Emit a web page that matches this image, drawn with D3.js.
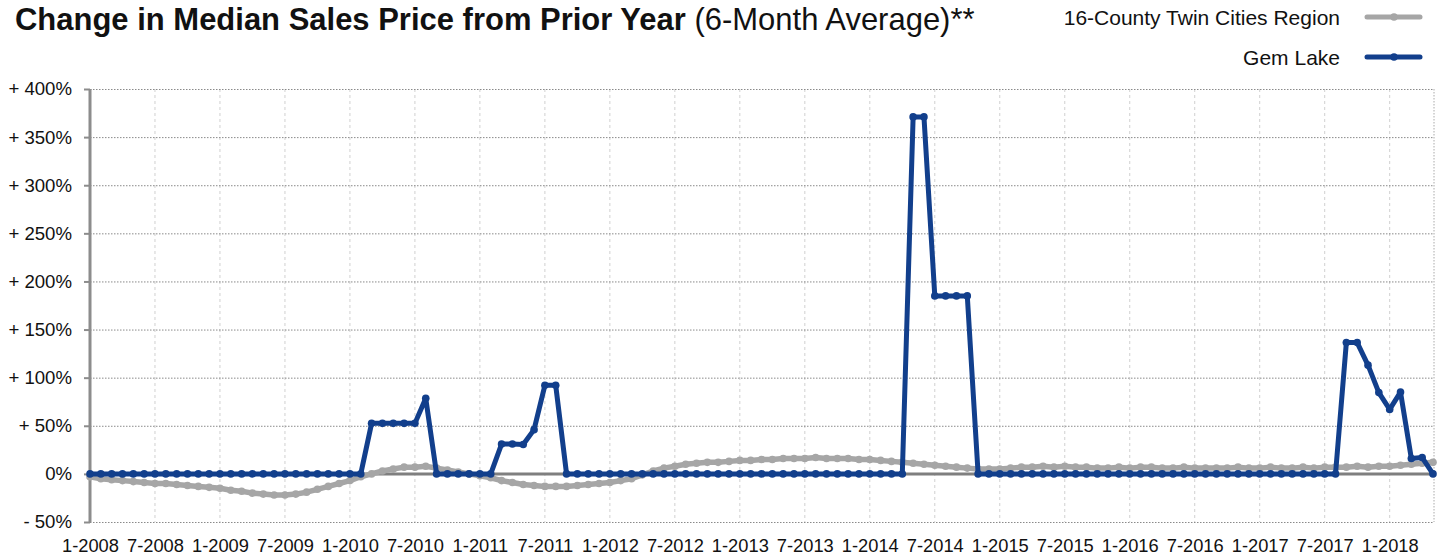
<!DOCTYPE html>
<html>
<head>
<meta charset="utf-8">
<script src="https://cdn.jsdelivr.net/npm/d3@7"></script>
<style>
    body { margin: 0; background: #fff; }
    text { font-family: "Liberation Sans", Arial, Helvetica, sans-serif; fill: #111; }
</style>
</head>
<body>
<svg id="chart" width="1445" height="555"></svg>
<script>
// monthly values, 1-2008 .. 5-2018 (percent change, 6-month average)
var months = d3.range(125);

var region = [-3, -5, -6, -7, -8, -9, -10, -10, -11, -12, -13, -14,
    -15, -17, -18, -20, -21, -22, -22, -21, -19, -16, -13, -10,
    -7, -3, 0, 3, 5, 7, 7, 8, 6, 4, 2, 0,
    -2, -4, -7, -9, -11, -12, -13, -13, -13, -12, -11, -10,
    -9, -7, -5, -1, 3, 6, 8, 10, 11, 12, 12, 13,
    14, 14, 15, 15, 16, 16, 16, 17, 16, 16, 16, 15,
    15, 14, 13, 12, 11, 10, 9, 8, 7, 6, 5, 5,
    5, 6, 7, 7, 8, 7, 8, 7, 7, 6, 6, 7,
    6, 7, 7, 6, 6, 7, 6, 6, 6, 6, 7, 6,
    6, 7, 6, 6, 7, 6, 7, 7, 7, 8, 7, 8,
    8, 9, 10, 11, 12];

var gemLake = [0, 0, 0, 0, 0, 0, 0, 0, 0, 0, 0, 0,
    0, 0, 0, 0, 0, 0, 0, 0, 0, 0, 0, 0,
    0, 0, 52.5, 52.5, 52.5, 52.5, 52.5, 78.5, 0, 0, 0, 0,
    0, 0, 31, 31, 30.5, 46, 92, 92, 0, 0, 0, 0,
    0, 0, 0, 0, 0, 0, 0, 0, 0, 0, 0, 0,
    0, 0, 0, 0, 0, 0, 0, 0, 0, 0, 0, 0,
    0, 0, 0, 0, 371, 371, 185, 185, 185, 185, 0, 0,
    0, 0, 0, 0, 0, 0, 0, 0, 0, 0, 0, 0,
    0, 0, 0, 0, 0, 0, 0, 0, 0, 0, 0, 0,
    0, 0, 0, 0, 0, 0, 0, 0, 136.5, 136.5, 113, 84.5,
    67, 85, 16, 17, 0];

var xTickLabels = ["1-2008", "7-2008", "1-2009", "7-2009", "1-2010", "7-2010", "1-2011",
    "7-2011", "1-2012", "7-2012", "1-2013", "7-2013", "1-2014", "7-2014", "1-2015",
    "7-2015", "1-2016", "7-2016", "1-2017", "7-2017", "1-2018"];

var yTicks = [-50, 0, 50, 100, 150, 200, 250, 300, 350, 400];

var seriesNames = ["16-County Twin Cities Region", "Gem Lake"];
var seriesColors = ["#a6a6a6", "#123f8c"];

var svg = d3.select("#chart");

var x = d3.scaleLinear()
    .domain([0, 124])
    .range([90, 1433]);

var y = d3.scaleLinear()
    .domain([-50, 400])
    .range([522, 89]);

// grid
svg.append("g")
    .selectAll("line")
    .data(xTickLabels.slice(1))
    .enter().append("line")
    .attr("x1", function (d, i) { return x((i + 1) * 6); })
    .attr("x2", function (d, i) { return x((i + 1) * 6); })
    .attr("y1", y(400))
    .attr("y2", y(-50))
    .attr("stroke", "#d0d0d0")
    .attr("stroke-width", 1)
    .attr("stroke-dasharray", "3,3");

svg.append("line")
    .attr("x1", x(124) + 1).attr("x2", x(124) + 1)
    .attr("y1", y(400)).attr("y2", y(-50))
    .attr("stroke", "#aaa")
    .attr("stroke-dasharray", "1.5,1.5");

svg.append("g")
    .selectAll("line")
    .data(yTicks.filter(function (d) { return d !== 0; }))
    .enter().append("line")
    .attr("x1", x(0))
    .attr("x2", x(124) + 1)
    .attr("y1", function (d) { return y(d) + 0.5; })
    .attr("y2", function (d) { return y(d) + 0.5; })
    .attr("stroke", "#8a8a8a")
    .attr("stroke-width", 1)
    .attr("stroke-dasharray", "1.5,1.5");

// y axis
var yAxis = svg.append("g")
    .attr("transform", "translate(" + x(0) + ",0)")
    .call(d3.axisLeft(y)
        .tickValues(yTicks)
        .tickSize(6)
        .tickPadding(12)
        .tickFormat(function (d) {
            if (d > 0) return "+ " + d + "%";
            if (d < 0) return "- " + Math.abs(d) + "%";
            return "0%";
        }));
yAxis.select(".domain").attr("stroke", "#8c8c8c").attr("stroke-width", 3)
    .attr("d", "M0," + y(400) + "V" + y(-50));
yAxis.selectAll(".tick line").attr("stroke", "#8c8c8c").attr("stroke-width", 2);
yAxis.selectAll("text")
    .attr("font-size", "18.6px")
    .attr("font-family", "Liberation Sans, Arial, sans-serif")
    .attr("fill", "#111");

// x labels
var xAxis = svg.append("g")
    .attr("transform", "translate(0," + y(-50) + ")")
    .call(d3.axisBottom(x)
        .tickValues(xTickLabels.map(function (d, i) { return i * 6; }))
        .tickSize(0)
        .tickPadding(17)
        .tickFormat(function (d) { return xTickLabels[d / 6]; }));
xAxis.select(".domain").remove();
xAxis.selectAll("text")
    .attr("font-size", "18.3px")
    .attr("font-family", "Liberation Sans, Arial, sans-serif")
    .attr("fill", "#111");

// zero line
svg.append("line")
    .attr("x1", x(0))
    .attr("x2", x(124))
    .attr("y1", y(0))
    .attr("y2", y(0))
    .attr("stroke", "#7f7f7f")
    .attr("stroke-width", 3);

var line = d3.line()
    .x(function (d) { return x(d[0]); })
    .y(function (d) { return y(d[1]); });

[region, gemLake].forEach(function (values, k) {
    var pts = months.map(function (m) { return [m, values[m]]; });
    var g = svg.append("g").attr("class", "series");
    g.append("path")
        .datum(pts)
        .attr("fill", "none")
        .attr("stroke", seriesColors[k])
        .attr("stroke-width", k === 0 ? 5.5 : 5)
        .attr("stroke-linejoin", "round")
        .attr("d", line);
    g.selectAll("circle")
        .data(pts)
        .enter().append("circle")
        .attr("cx", function (d) { return x(d[0]); })
        .attr("cy", function (d) { return y(d[1]); })
        .attr("r", 3.8)
        .attr("fill", seriesColors[k]);
});

// title
var title = svg.append("text")
    .attr("x", 0)
    .attr("y", 0)
    .attr("font-family", "Liberation Sans Narrow, DejaVu Sans Condensed, Liberation Sans, sans-serif")
    .attr("font-size", "32px")
    .attr("fill", "#000");
title.append("tspan")
    .attr("font-weight", "bold")
    .text("Change in Median Sales Price from Prior Year");
title.append("tspan")
    .attr("font-weight", "normal")
    .text(" (6-Month Average)**");
var tw = title.node().getComputedTextLength();
title.attr("transform", "translate(15,29.5) scale(" + (960 / tw) + ",1)");

// legend
var legend = svg.append("g");
seriesNames.forEach(function (name, k) {
    var ly = k === 0 ? 17 : 57;
    legend.append("text")
        .attr("x", 1340)
        .attr("y", ly + 8)
        .attr("text-anchor", "end")
        .attr("font-size", "21px")
        .attr("fill", "#111")
        .text(name);
    legend.append("line")
        .attr("x1", 1367)
        .attr("x2", 1420)
        .attr("y1", ly)
        .attr("y2", ly)
        .attr("stroke", seriesColors[k])
        .attr("stroke-width", 5)
        .attr("stroke-linecap", "round");
    legend.append("circle")
        .attr("cx", 1394)
        .attr("cy", ly)
        .attr("r", 3.8)
        .attr("fill", seriesColors[k]);
});
</script>
</body>
</html>
